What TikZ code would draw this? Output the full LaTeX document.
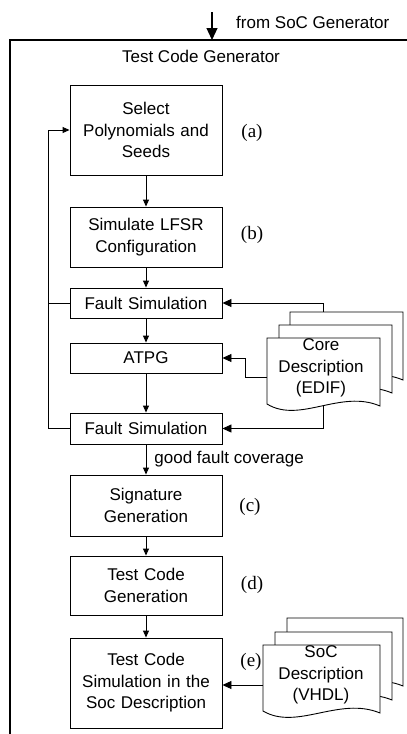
\documentclass[tikz,border=0pt]{standalone}
\usepackage{fontspec}
\setmainfont{Liberation Sans}
\newfontfamily\lblfont{Liberation Serif}
\usetikzlibrary{arrows.meta}
\newcommand\mydoc[4]{%
  \filldraw[docshape] (#1,#2) -- (#1+#3,#2) -- (#1+#3,#2+#4)
    .. controls (#1+0.65*#3,#2+#4-17) and (#1+0.29*#3,#2+#4+18) .. (#1,#2+#4-2) -- cycle;}
\begin{document}
\begin{tikzpicture}[x=1pt,y=-1pt,
  font=\fontsize{17}{21.5}\selectfont,
  box/.style={draw, line width=0.9pt, minimum width=152pt, inner sep=0pt, text width=150pt, align=center},
  arr/.style={line width=0.9pt, -{Triangle[length=7pt,width=6pt]}},
  bigarr/.style={line width=0.9pt, -{Triangle[length=9pt,width=8pt]}},
  topar/.style={line width=1.2pt, -{Triangle[length=12pt,width=11pt]}},
  frame/.style={line width=1.6pt},
  docshape/.style={draw, fill=white, line width=0.9pt},
  lbl/.style={font=\lblfont\fontsize{19}{22}\selectfont, inner sep=0pt},
  plain/.style={inner sep=0pt, align=center}
]
\useasboundingbox (0,0) rectangle (407,734);
\fill[white] (0,0) rectangle (407,734);

% frame and input
\draw[frame] (407,40) -- (10,40) -- (10,734);
\coordinate (src) at (212,12);
\coordinate (ftop) at (212,40);
\draw[topar] (src) -- (ftop);
\node[anchor=base west, inner sep=0pt] (fromsoc) at (236,28) {from SoC Generator};
\node[anchor=base, inner sep=0pt] (title) at (201,62) {Test Code Generator};

% boxes
\node[box, minimum height=90pt] (sel) at (146,130) {Select\\Polynomials and\\Seeds};
\node[box, minimum height=60pt] (lfsr) at (146,237) {Simulate LFSR\\Configuration};
\node[box, minimum height=30pt] (fs1) at (146,303) {Fault Simulation};
\node[box, minimum height=30pt] (atpg) at (146,358) {ATPG};
\node[box, minimum height=31pt] (fs2) at (146,428.5) {Fault Simulation};
\node[box, minimum height=61pt] (sig) at (146,505.5) {Signature\\Generation};
\node[box, minimum height=59pt] (tcg) at (146,585.5) {Test Code\\Generation};
\node[box, minimum height=90pt] (tcs) at (146,683) {Test Code\\Simulation in the\\Soc Description};

% vertical flow
\draw[arr] (sel.south) -- (lfsr.north);
\draw[arr] (lfsr.south) -- (fs1.north);
\draw[arr] (fs1.south) -- (atpg.north);
\draw[arr] (atpg.south) -- (fs2.north);
\draw[arr] (fs2.south) -- node[anchor=west, inner sep=0pt, xshift=8pt] (gfc) {good fault coverage} (sig.north);
\draw[arr] (sig.south) -- (tcg.north);
\draw[arr] (tcg.south) -- (tcs.north);

% feedback loop
\coordinate (fbx) at (48,0);
\draw[arr] (fs2.west) -- (fs2.west -| fbx) |- (sel.west);
\draw[line width=0.9pt] (fs1.west) -- (fs1.west -| fbx);

% core description connectors
\coordinate (coreT) at (323,340);
\coordinate (coreL) at (267,377);
\coordinate (coreB) at (323,404);
\draw[bigarr] (coreT) |- (fs1.east);
\draw[bigarr] (coreL) -- ++(-22,0) |- (atpg.east);
\draw[bigarr] (coreB) |- (fs2.east);

% core documents
\mydoc{290}{312}{113}{68}
\mydoc{279}{325}{113}{68}
\mydoc{267}{338}{113}{68}
\node[plain] (core) at (321,368) {Core\\Description\\(EDIF)};

% SoC documents
\coordinate (socL) at (263,685);
\draw[bigarr] (socL) -- (socL -| tcs.east);
\mydoc{287}{618}{116}{68}
\mydoc{275}{632}{117}{68}
\mydoc{263}{645}{117}{68}
\node[plain] (soc) at (321,675) {SoC\\Description\\(VHDL)};

% labels
\node[lbl] (la) at (252,133) {(a)};
\node[lbl] (lb) at (252,235) {(b)};
\node[lbl] (lc) at (250,507) {(c)};
\node[lbl] (ld) at (252,585) {(d)};
\node[lbl] (le) at (251,662) {(e)};
\end{tikzpicture}
\end{document}
